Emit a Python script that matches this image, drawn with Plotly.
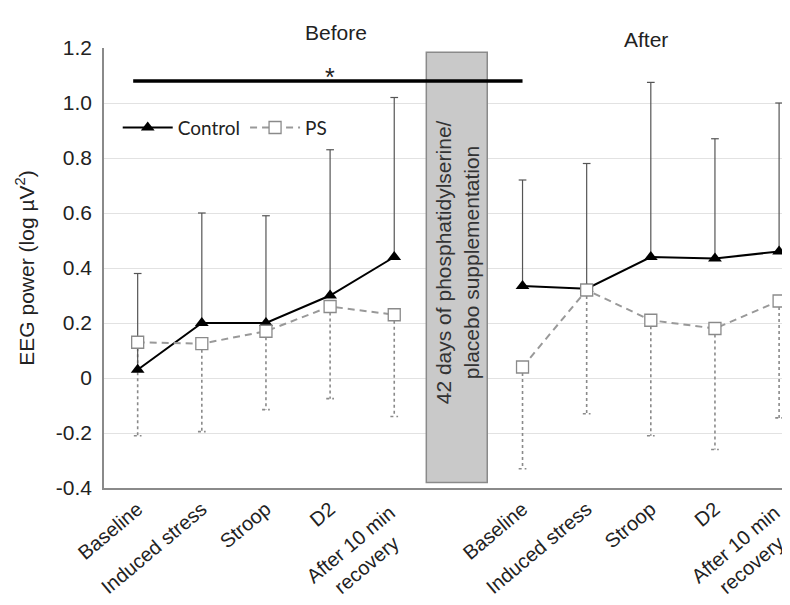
import plotly.graph_objects as go

# ---------------- data ----------------
categories = ["Baseline", "Induced stress", "Stroop", "D2",
              "After 10 min\u00a0<br>recovery\u00a0\u00a0\u00a0\u00a0"]
x_before = [0, 1, 2, 3, 4]
x_after = [6, 7, 8, 9, 10]

control_before = [0.03, 0.20, 0.20, 0.30, 0.44]
control_before_top = [0.38, 0.60, 0.59, 0.83, 1.02]
control_after = [0.335, 0.325, 0.44, 0.435, 0.46]
control_after_top = [0.72, 0.78, 1.075, 0.87, 1.00]

ps_before = [0.13, 0.125, 0.17, 0.26, 0.23]
ps_before_bottom = [-0.21, -0.195, -0.115, -0.075, -0.14]
ps_after = [0.04, 0.32, 0.21, 0.18, 0.28]
ps_after_bottom = [-0.33, -0.13, -0.21, -0.26, -0.145]

y_ticks = [-0.4, -0.2, 0, 0.2, 0.4, 0.6, 0.8, 1.0, 1.2]
y_tick_labels = ["-0.4", "-0.2", "0", "0.2", "0.4", "0.6", "0.8", "1.0", "1.2"]

box_text = "42 days of phosphatidylserine/<br>placebo supplementation"

FONT = "Liberation Sans, Arial, sans-serif"
LEGEND_FONT = "Liberation Sans Narrow, Lato, sans-serif"

fig = go.Figure()


def lower_bars(xs, means, bottoms):
    ex, ey = [], []
    for x, m, b in zip(xs, means, bottoms):
        ex += [x, x, None, x - 0.06, x + 0.06, None]
        ey += [m, b, None, b, b, None]
    return ex, ey


def upper_bars(xs, means, tops):
    ex, ey = [], []
    for x, m, t in zip(xs, means, tops):
        ex += [x, x, None, x - 0.06, x + 0.06, None]
        ey += [m, t, None, t, t, None]
    return ex, ey


# PS dotted lower error bars
ex1, ey1 = lower_bars(x_before, ps_before, ps_before_bottom)
ex2, ey2 = lower_bars(x_after, ps_after, ps_after_bottom)
fig.add_trace(go.Scatter(
    x=ex1 + ex2, y=ey1 + ey2, mode="lines",
    line=dict(color="#8a8a8a", width=1.6, dash="dot"),
    showlegend=False, hoverinfo="skip", cliponaxis=False))

# Control upper error bars
cx1, cy1 = upper_bars(x_before, control_before, control_before_top)
cx2, cy2 = upper_bars(x_after, control_after, control_after_top)
fig.add_trace(go.Scatter(
    x=cx1 + cx2, y=cy1 + cy2, mode="lines",
    line=dict(color="#555555", width=1.2),
    showlegend=False, hoverinfo="skip", cliponaxis=False))

# Control series
fig.add_trace(go.Scatter(
    x=x_before + [None] + x_after,
    y=control_before + [None] + control_after,
    mode="lines+markers", name="Control",
    line=dict(color="black", width=2),
    marker=dict(symbol="triangle-up", size=12, color="black"),
    connectgaps=False, cliponaxis=False))

# PS series
fig.add_trace(go.Scatter(
    x=x_before + [None] + x_after,
    y=ps_before + [None] + ps_after,
    mode="lines+markers", name="PS",
    line=dict(color="#999999", width=2, dash="7px,5px"),
    marker=dict(symbol="square", size=12, color="white",
                line=dict(color="#8a8a8a", width=1.3)),
    connectgaps=False, cliponaxis=False))

# supplementation box
fig.add_shape(type="rect", x0=4.5, x1=5.45, y0=-0.38, y1=1.185,
              xref="x", yref="y", fillcolor="#c9c9c9",
              line=dict(color="#8a8a8a", width=1.5), layer="above")
fig.add_annotation(x=4.975, y=0.42, xref="x", yref="y", text=box_text,
                   textangle=-90, showarrow=False,
                   font=dict(family=FONT, size=21, color="#333333"))

# significance bar
fig.add_shape(type="line", x0=-0.07, x1=6.0, y0=1.08, y1=1.08,
              xref="x", yref="y", line=dict(color="black", width=3.5),
              layer="above")
fig.add_annotation(x=3, y=1.08, xref="x", yref="y", text="*",
                   showarrow=False, yanchor="bottom", yshift=-12,
                   font=dict(family=FONT, size=25, color="#222222"))

# period titles
fig.add_annotation(x=0.290, y=1.065, xref="paper", yref="paper", text="Before",
                   showarrow=False, font=dict(family=FONT, size=21, color="#222222"))
fig.add_annotation(x=0.825, y=1.051, xref="paper", yref="paper", text="After",
                   showarrow=False, font=dict(family=FONT, size=21, color="#222222"))

# page has an 8px body margin: figure is shrunk so the plot lands where the reference has it
fig.update_layout(
    width=782, height=597,
    margin=dict(l=96, r=0, t=40, b=117, autoexpand=False),
    plot_bgcolor="white", paper_bgcolor="white",
    font=dict(family=FONT, size=21, color="#222222"),
    legend=dict(orientation="h", x=0.020, y=0.819, xanchor="left", yanchor="middle",
                bgcolor="rgba(0,0,0,0)",
                font=dict(family=LEGEND_FONT, size=19, color="#222222"),
                itemwidth=50, tracegroupgap=0),
    showlegend=True,
)
fig.update_xaxes(
    range=[-0.525, 10.17],
    tickvals=x_before + x_after,
    ticktext=categories + categories,
    tickangle=-40,
    tickfont=dict(family=FONT, size=20, color="#222222"),
    ticklabeloverflow="allow",
    automargin=False,
    showgrid=False, zeroline=False,
    showline=True, linecolor="#8a8a8a", linewidth=1.5,
    ticks="",
)
fig.update_yaxes(
    range=[-0.4, 1.2],
    tickvals=y_ticks, ticktext=y_tick_labels,
    tickfont=dict(family=FONT, size=21, color="#222222"),
    automargin=False,
    showgrid=True, gridcolor="#e2e2e2", gridwidth=1.2,
    zeroline=False,
    showline=True, linecolor="#8a8a8a", linewidth=1.5,
    ticks="", ticklabelstandoff=6,
    title=dict(text="EEG power (log \u00b5V<sup>2</sup>)", font=dict(family=FONT, size=21),
               standoff=16),
)

fig.write_html("out.html")
